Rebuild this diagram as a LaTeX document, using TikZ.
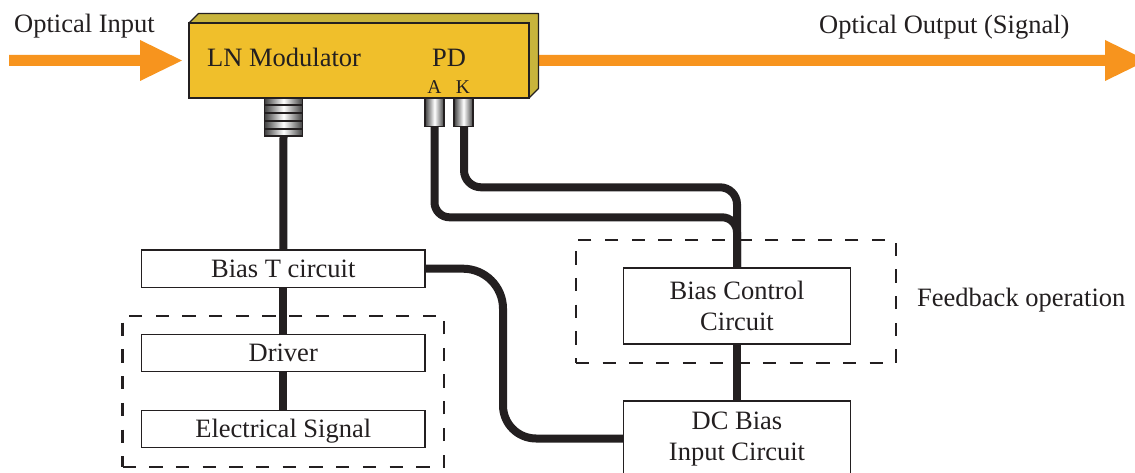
\documentclass[tikz,border=0pt]{standalone}
\usepackage{fontspec}
\setmainfont{Liberation Serif}
\definecolor{ink}{HTML}{231F20}
\definecolor{flow}{HTML}{F7941E}
\definecolor{modfront}{HTML}{F0BF2B}
\definecolor{modside}{HTML}{C8B43C}
\tikzset{
  txt/.style={inner sep=0pt,text=ink,font=\fontsize{26.5}{31.5}\selectfont},
  small/.style={inner sep=0pt,text=ink,font=\fontsize{19.5}{22}\selectfont},
  box/.style={draw=ink,line width=1.1pt,fill=white,inner sep=0pt,minimum width=283.5pt,text=ink,font=\fontsize{26.5}{31.5}\selectfont},
  onerow/.style={box,minimum height=37.5pt,text height=22pt,text depth=5pt},
  tworow/.style={box,minimum width=227pt,align=center},
  dashbox/.style={draw=ink,line width=2.4pt,dash pattern=on 13.3pt off 13.4pt,inner sep=0pt},
  wire/.style={draw=ink,line width=8pt},
  flowarrow/.style={fill=flow,draw=none},
  metal/.style={draw=ink,line width=1.2pt,left color=black!75,right color=black!75,middle color=white,inner sep=0pt}
}
\begin{document}
\begin{tikzpicture}[x=1pt,y=-1pt]
\useasboundingbox (0,0) rectangle (1135,473);
\clip (0,0) rectangle (1135,473);
\fill[white] (0,0) rectangle (1135,473);
% optical arrows
\fill[flowarrow] (9,55) -- (140,55) -- (140,40) -- (182,60.5) -- (140,81) -- (140,66) -- (9,66) -- cycle;
\fill[flowarrow] (535,55) -- (1105,55) -- (1105,40) -- (1147,60.5) -- (1105,81) -- (1105,66) -- (535,66) -- cycle;
% modulator
\filldraw[draw=ink,line width=1.1pt,fill=modside,line join=round] (189,23) -- (198.5,13.5) -- (538.5,13.5) -- (538.5,88.5) -- (529,98) -- (529,23) -- cycle;
\node[draw=ink,line width=1.1pt,fill=modfront,minimum width=340pt,minimum height=75pt,inner sep=0pt] (mod) at (359,60.5) {};
% connectors
\node[metal,minimum width=38pt,minimum height=38pt] (coil) at (283.5,117) {};
\foreach \yy in {105,113,121,129}{\draw[ink,line width=1.4pt] (coil.west |- 0,\yy) -- (coil.east |- 0,\yy);}
\node[metal,minimum width=19pt,minimum height=28pt] (conA) at (434.5,112.5) {};
\node[metal,minimum width=19pt,minimum height=28pt] (conK) at (463.5,112.5) {};
% dashed groups
\node[dashbox,minimum width=321.5pt,minimum height=151pt] (grpL) at (283.25,391.2) {};
\node[dashbox,minimum width=320pt,minimum height=123pt] (grpR) at (736,301.5) {};
% blocks
\node[onerow] (biast) at (283.25,268.7) {Bias T circuit};
\node[onerow] (driver) at (283.25,353) {Driver};
\node[onerow] (esig) at (283.25,429) {Electrical Signal};
\node[tworow,minimum height=76pt] (bcc) at (737,306) {Bias Control\\Circuit};
\node[tworow,minimum height=75pt] (dcb) at (737,438.5) {\rule{0pt}{19pt}DC Bias\\Input Circuit\rule[-0.5pt]{0pt}{0pt}};
% wires
\coordinate (kturn) at (737,187.3);
\coordinate (aturn) at (737,217.3);
\coordinate (bturn) at (503,268.7);
\coordinate (dturn) at (503,438.5);
\draw[wire] (coil.south) -- (biast.north);
\draw[wire] (biast.south) -- (driver.north);
\draw[wire] (driver.south) -- (esig.north);
\draw[wire] (bcc.south) -- (dcb.north);
\draw[wire,rounded corners=17pt] (conK.south) ++(0.5,0) |- (kturn) -- (bcc.north);
\draw[wire,rounded corners=15pt] (conA.south) -- (conA.south |- aturn) -- (aturn) -- (bcc.north);
\draw[wire] (biast.east) [rounded corners=40pt] -- (bturn) [rounded corners=33pt] -- (dturn) -- (dcb.west);
% labels
\node[txt,anchor=base west] (tin) at (14,33) {Optical Input};
\node[txt,anchor=base west] (tout) at (819,33.5) {Optical Output (Signal)};
\node[txt,anchor=base west] (tln) at (207,67) {LN Modulator};
\node[txt,anchor=base west] (tpd) at (432,67) {PD};
\node[small,anchor=base] (ta) at (434.5,94) {A};
\node[small,anchor=base] (tk) at (463,94) {K};
\node[txt,anchor=base west] (tfb) at (917,306) {Feedback operation};
\end{tikzpicture}
\end{document}
